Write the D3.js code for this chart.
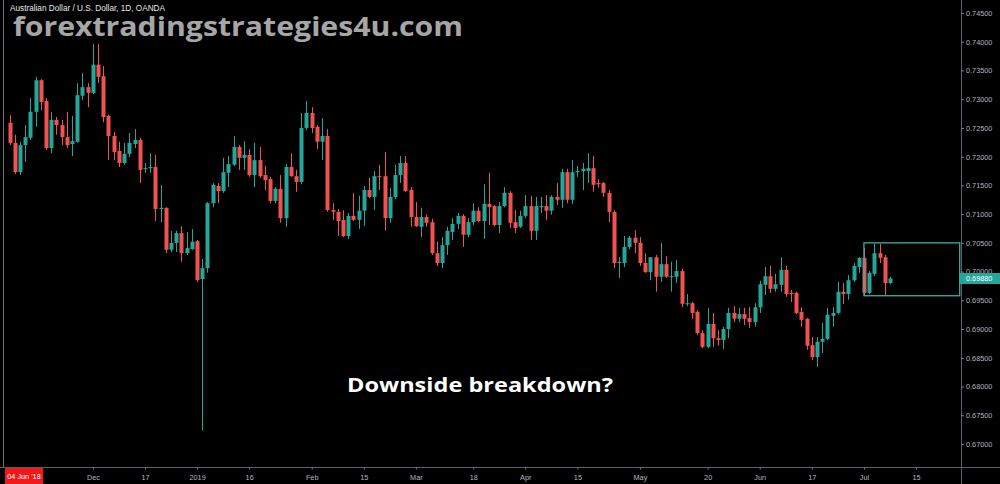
<!DOCTYPE html>
<html><head><meta charset="utf-8">
<script src="https://cdn.jsdelivr.net/npm/d3@7"></script>
<style>html,body{margin:0;padding:0;background:#000;overflow:hidden}</style>
</head><body><svg id="c" width="1000" height="484"></svg>
<script>
// ---- categories (trading days) ----
const holidays = ["2018-12-25", "2019-01-01"];
const firstDay = "2018-11-09";
const lastDay = "2019-08-02";

// ---- OHLC series (AUD/USD daily, OANDA) ----
const open = [0.7259,0.7224,0.7173,0.7220,0.7233,0.7278,0.7333,0.7297,0.7215,0.7264,
0.7255,0.7234,0.7222,0.7226,0.7306,0.7321,0.7311,0.7360,0.7340,0.7271,
0.7236,0.7210,0.7189,0.7205,0.7222,0.7229,0.7179,0.7180,0.7182,0.7109,
0.7111,0.7038,0.7050,0.7067,0.7032,0.7039,0.7053,0.6987,0.7006,0.7119,
0.7149,0.7140,0.7172,0.7186,0.7217,0.7198,0.7203,0.7168,0.7194,0.7168,
0.7161,0.7123,0.7144,0.7093,0.7182,0.7166,0.7156,0.7250,0.7276,0.7252,
0.7226,0.7236,0.7107,0.7104,0.7090,0.7062,0.7097,0.7090,0.7106,0.7142,
0.7130,0.7166,0.7166,0.7093,0.7130,0.7168,0.7189,0.7142,0.7095,0.7078,
0.7095,0.7086,0.7032,0.7015,0.7046,0.7069,0.7083,0.7097,0.7064,0.7086,
0.7106,0.7088,0.7118,0.7114,0.7081,0.7114,0.7137,0.7086,0.7078,0.7097,
0.7114,0.7071,0.7112,0.7114,0.7106,0.7130,0.7125,0.7173,0.7125,0.7173,
0.7175,0.7175,0.7180,0.7154,0.7154,0.7137,0.7104,0.7015,0.7015,0.7043,
0.7059,0.7050,0.7015,0.6999,0.7025,0.6991,0.7013,0.6991,0.6991,0.7001,
0.6944,0.6945,0.6930,0.6893,0.6869,0.6909,0.6884,0.6881,0.6900,0.6928,
0.6918,0.6926,0.6919,0.6912,0.6938,0.6977,0.6992,0.6970,0.6977,0.7003,
0.6963,0.6963,0.6930,0.6918,0.6872,0.6851,0.6878,0.6883,0.6923,0.6928,
0.6965,0.6961,0.6985,0.7008,0.7024,0.6963,0.6996,0.7032,0.7025,0.6980];
const high = [0.7272,0.7238,0.7226,0.7255,0.7302,0.7339,0.7335,0.7302,0.7278,0.7269,
0.7264,0.7278,0.7271,0.7328,0.7346,0.7328,0.7396,0.7396,0.7358,0.7273,
0.7243,0.7226,0.7224,0.7241,0.7248,0.7233,0.7189,0.7206,0.7203,0.7151,
0.7112,0.7071,0.7071,0.7079,0.7069,0.7074,0.7055,0.7022,0.7121,0.7154,
0.7154,0.7198,0.7201,0.7236,0.7220,0.7227,0.7213,0.7224,0.7217,0.7184,
0.7165,0.7147,0.7168,0.7187,0.7206,0.7177,0.7276,0.7297,0.7286,0.7255,
0.7267,0.7248,0.7119,0.7109,0.7107,0.7102,0.7137,0.7132,0.7149,0.7163,
0.7175,0.7186,0.7208,0.7146,0.7186,0.7201,0.7201,0.7147,0.7121,0.7111,
0.7099,0.7092,0.7052,0.7060,0.7078,0.7093,0.7102,0.7100,0.7093,0.7119,
0.7112,0.7152,0.7172,0.7116,0.7121,0.7147,0.7140,0.7107,0.7106,0.7133,
0.7132,0.7130,0.7130,0.7133,0.7133,0.7154,0.7179,0.7179,0.7194,0.7184,
0.7189,0.7206,0.7201,0.7161,0.7156,0.7142,0.7107,0.7025,0.7062,0.7062,
0.7072,0.7060,0.7032,0.7025,0.7029,0.7050,0.7027,0.7017,0.7020,0.7005,
0.6961,0.6947,0.6933,0.6898,0.6937,0.6928,0.6898,0.6904,0.6937,0.6940,
0.6937,0.6937,0.6938,0.6945,0.6984,0.7008,0.7010,0.6996,0.7025,0.7010,
0.6968,0.6965,0.6938,0.6919,0.6886,0.6886,0.6911,0.6937,0.6938,0.6982,
0.6980,0.6994,0.7015,0.7025,0.7041,0.7001,0.7048,0.7048,0.7029,0.6991];
const low = [0.7220,0.7170,0.7168,0.7191,0.7229,0.7252,0.7281,0.7212,0.7206,0.7238,
0.7220,0.7215,0.7201,0.7224,0.7299,0.7286,0.7309,0.7328,0.7260,0.7194,
0.7194,0.7182,0.7186,0.7199,0.7215,0.7154,0.7172,0.7172,0.7088,0.7086,
0.7032,0.7034,0.7034,0.7017,0.7029,0.7038,0.6982,0.6724,0.6998,0.7112,
0.7119,0.7137,0.7147,0.7184,0.7177,0.7177,0.7165,0.7147,0.7163,0.7142,
0.7119,0.7119,0.7085,0.7078,0.7165,0.7139,0.7152,0.7246,0.7241,0.7213,
0.7194,0.7104,0.7090,0.7062,0.7060,0.7057,0.7088,0.7074,0.7079,0.7128,
0.7107,0.7142,0.7072,0.7085,0.7126,0.7154,0.7139,0.7078,0.7078,0.7060,
0.7078,0.7029,0.7010,0.7006,0.7029,0.7055,0.7074,0.7043,0.7060,0.7081,
0.7086,0.7057,0.7081,0.7079,0.7067,0.7112,0.7076,0.7067,0.7076,0.7093,
0.7055,0.7055,0.7102,0.7090,0.7099,0.7116,0.7111,0.7119,0.7118,0.7165,
0.7142,0.7154,0.7139,0.7146,0.7130,0.7086,0.7006,0.6989,0.7008,0.7039,
0.7032,0.7010,0.6998,0.6985,0.6965,0.6982,0.6989,0.6965,0.6980,0.6938,
0.6940,0.6918,0.6890,0.6867,0.6867,0.6869,0.6871,0.6865,0.6884,0.6912,
0.6912,0.6907,0.6902,0.6904,0.6928,0.6959,0.6963,0.6965,0.6965,0.6956,
0.6947,0.6926,0.6904,0.6864,0.6846,0.6834,0.6858,0.6881,0.6904,0.6925,
0.6944,0.6951,0.6982,0.6998,0.6959,0.6961,0.6992,0.7015,0.6958,0.6978];
const close = [0.7224,0.7173,0.7220,0.7234,0.7278,0.7333,0.7295,0.7215,0.7264,0.7255,
0.7234,0.7220,0.7227,0.7307,0.7321,0.7311,0.7360,0.7339,0.7269,0.7236,
0.7208,0.7189,0.7205,0.7224,0.7229,0.7177,0.7180,0.7182,0.7109,0.7111,
0.7038,0.7050,0.7067,0.7032,0.7041,0.7052,0.6985,0.7006,0.7119,0.7151,
0.7140,0.7173,0.7187,0.7217,0.7198,0.7203,0.7168,0.7194,0.7166,0.7159,
0.7123,0.7144,0.7093,0.7182,0.7166,0.7156,0.7250,0.7276,0.7250,0.7226,
0.7236,0.7107,0.7104,0.7088,0.7062,0.7097,0.7090,0.7106,0.7142,0.7130,
0.7166,0.7165,0.7093,0.7130,0.7168,0.7189,0.7140,0.7095,0.7079,0.7095,
0.7085,0.7032,0.7015,0.7046,0.7071,0.7083,0.7097,0.7064,0.7086,0.7106,
0.7088,0.7118,0.7112,0.7081,0.7114,0.7137,0.7085,0.7076,0.7097,0.7114,
0.7071,0.7114,0.7114,0.7106,0.7130,0.7125,0.7173,0.7125,0.7173,0.7175,
0.7179,0.7180,0.7151,0.7152,0.7137,0.7104,0.7015,0.7017,0.7043,0.7059,
0.7050,0.7015,0.6999,0.7025,0.6991,0.7013,0.6991,0.6992,0.7001,0.6944,
0.6945,0.6928,0.6893,0.6869,0.6909,0.6884,0.6881,0.6900,0.6928,0.6918,
0.6926,0.6918,0.6912,0.6938,0.6978,0.6992,0.6970,0.6978,0.7003,0.6961,
0.6961,0.6928,0.6916,0.6871,0.6851,0.6878,0.6883,0.6925,0.6928,0.6965,
0.6961,0.6985,0.7010,0.7024,0.6963,0.6998,0.7032,0.7024,0.6980,0.6988];

// ---- axis labels ----
const priceTicks = [0.670,0.675,0.680,0.685,0.690,0.695,0.700,0.705,0.710,0.715,0.720,0.725,0.730,0.735,0.740,0.745];
const timeTickLabels = ["Dec","17","2019","16","Feb","15","Mar","18","Apr","15","May","20","Jun","17","Jul","15"];
const timeTickDates = ["2018-12-03","2018-12-17","2019-01-02","2019-01-16","2019-02-01","2019-02-15","2019-03-01","2019-03-18","2019-04-01","2019-04-15","2019-05-01","2019-05-20","2019-06-03","2019-06-17","2019-07-01","2019-07-15"];
const lastPrice = 0.6988;
const zoneDates = ["2019-07-01", "2019-07-25"];
const zonePrices = [0.7050, 0.6958];
const titleText = "Australian Dollar / U.S. Dollar, 1D, OANDA";
const watermarkText = "forextradingstrategies4u.com";
const noteText = "Downside breakdown?";
const cursorDateText = "04 Jun '18";

// build trading-day list
const dates = [];
for (let d = new Date(firstDay + "T00:00:00Z"); d <= new Date(lastDay + "T00:00:00Z"); d.setUTCDate(d.getUTCDate() + 1)) {
  const w = d.getUTCDay(), s = d.toISOString().slice(0, 10);
  if (w > 0 && w < 6 && !holidays.includes(s)) dates.push(s);
}
const idx = s => dates.indexOf(s);

const candles = open.map((o, i) => ({ i, o, h: high[i], l: low[i], c: close[i] }));

const W = 1000, H = 484, paneRight = 961, paneBottom = 467.5;
const svg = d3.select("#c");
const x = d3.scaleLinear().domain([0, candles.length - 1]).range([9.5, 890]);
const y = d3.scaleLinear().domain([0.670, 0.745]).range([444, 13]);
const up = "#26a69a", down = "#ef5350";
const font = "'Liberation Sans', Arial, sans-serif";

svg.append("rect").attr("width", W).attr("height", H).attr("fill", "#000");

// left border
svg.append("line").attr("x1", 3.5).attr("x2", 3.5).attr("y1", 0).attr("y2", paneBottom)
  .attr("stroke", "#6a6d78").attr("stroke-width", 1);

// candles
const g = svg.append("g");
g.selectAll("line.w").data(candles).join("line")
  .attr("x1", d => Math.round(x(d.i)) + 0.5).attr("x2", d => Math.round(x(d.i)) + 0.5)
  .attr("y1", d => y(d.h)).attr("y2", d => y(d.l))
  .attr("stroke", d => d.c >= d.o ? up : down).attr("stroke-width", 1);
g.selectAll("rect.b").data(candles).join("rect")
  .attr("x", d => Math.round(x(d.i)) - 1.5).attr("width", 4)
  .attr("y", d => y(Math.max(d.o, d.c)))
  .attr("height", d => Math.max(1, Math.abs(y(d.o) - y(d.c))))
  .attr("fill", d => d.c >= d.o ? up : down);

// zone rectangle
svg.append("rect")
  .attr("x", x(idx(zoneDates[0]))).attr("y", y(zonePrices[0]))
  .attr("width", x(idx(zoneDates[1])) + 2 - x(idx(zoneDates[0])))
  .attr("height", y(zonePrices[1]) - y(zonePrices[0]))
  .attr("fill", "none").attr("stroke", "#3bb0a6").attr("stroke-width", 1.3);

// axes lines
svg.append("line").attr("x1", paneRight + 0.5).attr("x2", paneRight + 0.5).attr("y1", 0).attr("y2", H)
  .attr("stroke", "#5d606b");
svg.append("line").attr("x1", 0).attr("x2", W).attr("y1", paneBottom).attr("y2", paneBottom)
  .attr("stroke", "#5d606b");

// price axis
const ya = svg.append("g").attr("transform", `translate(${paneRight},0)`)
  .call(d3.axisRight(y).tickValues(priceTicks).tickSize(3).tickPadding(2).tickFormat(d => d.toFixed(5)));
ya.select(".domain").remove();
ya.selectAll("line").attr("stroke", "#787b86");
ya.selectAll("text").attr("fill", "#b2b5be").style("font", `7.3px ${font}`);

// time axis
const xa = svg.append("g").attr("transform", `translate(0,${paneBottom})`)
  .call(d3.axisBottom(x).tickValues(timeTickDates.map(idx)).tickSize(2).tickPadding(5)
    .tickFormat((d, k) => timeTickLabels[k]));
xa.select(".domain").remove();
xa.selectAll("line").attr("stroke", "#787b86");
xa.selectAll("text").attr("fill", "#b2b5be").style("font", `7.3px ${font}`);

// cursor date label
svg.append("rect").attr("x", 5).attr("y", 468).attr("width", 38).attr("height", 16).attr("fill", "#f01818");
svg.append("text").attr("x", 24).attr("y", 479).attr("text-anchor", "middle")
  .attr("fill", "#fff").style("font", `7.3px ${font}`).text(cursorDateText);

// last price badge
const ly = y(lastPrice);
svg.append("rect").attr("x", paneRight - 1).attr("y", ly - 5.5).attr("width", W - paneRight + 1).attr("height", 11).attr("fill", "#26a69a");
svg.append("text").attr("x", paneRight + 5).attr("y", ly + 2.6)
  .attr("fill", "#fff").style("font", `7.3px ${font}`).text(lastPrice.toFixed(5));

// title
svg.append("text").attr("x", 10).attr("y", 11).attr("fill", "#e8e8e8")
  .attr("textLength", 155).attr("lengthAdjust", "spacingAndGlyphs")
  .style("font", `8.5px ${font}`).text(titleText);

// watermark
svg.append("text").attr("x", 13).attr("y", 35.5).attr("fill", "#a6a6a6")
  .attr("textLength", 450).attr("lengthAdjust", "spacingAndGlyphs")
  .style("font", "bold 27px 'Open Sans', sans-serif").text(watermarkText);

// annotation
svg.append("text").attr("x", 347).attr("y", 392).attr("fill", "#fff")
  .attr("textLength", 266).attr("lengthAdjust", "spacingAndGlyphs")
  .style("font", "bold 20px 'Open Sans', sans-serif").text(noteText);
</script>
</body></html>
